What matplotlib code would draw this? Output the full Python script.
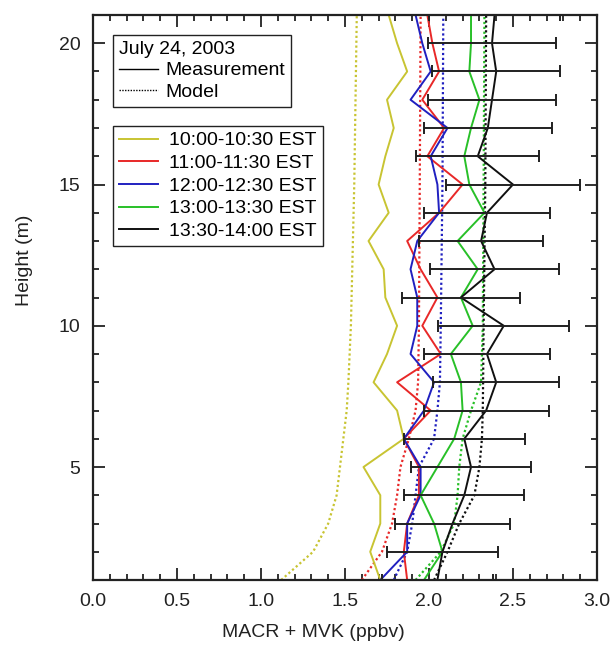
import matplotlib
matplotlib.use("Agg")
import matplotlib.pyplot as plt
import numpy as np
from matplotlib.lines import Line2D
from matplotlib.ticker import MultipleLocator, FormatStrFormatter

plt.rcParams['font.family'] = ['Liberation Sans', 'DejaVu Sans']

# measurement heights (m)
height = np.arange(1, 22)

# measured MACR + MVK (ppbv) per half-hour period
meas_1000 = [1.71, 1.65, 1.71, 1.71, 1.61, 1.85, 1.81, 1.67, 1.75, 1.81, 1.74,
             1.73, 1.64, 1.76, 1.70, 1.74, 1.79, 1.75, 1.87, 1.81, 1.76]
meas_1100 = [1.87, 1.85, 1.87, 1.94, 1.94, 1.85, 2.01, 1.81, 2.07, 1.96, 2.05,
             1.95, 1.87, 2.06, 2.20, 1.99, 2.09, 1.96, 2.06, 2.02, 1.99]
meas_1200 = [1.71, 1.87, 1.87, 1.95, 1.95, 1.85, 1.97, 2.03, 1.89, 1.93, 1.93,
             1.89, 1.93, 2.06, 2.05, 2.01, 2.11, 1.89, 2.01, 1.96, 1.92]
meas_1300 = [1.97, 2.08, 2.03, 1.95, 2.05, 2.15, 2.20, 2.19, 2.13, 2.26, 2.19,
             2.29, 2.17, 2.33, 2.24, 2.21, 2.25, 2.30, 2.24, 2.25, 2.25]
meas_1330 = [2.05, 2.08, 2.14, 2.21, 2.25, 2.21, 2.34, 2.40, 2.345, 2.445, 2.19,
             2.39, 2.31, 2.345, 2.50, 2.29, 2.35, 2.375, 2.40, 2.375, 2.39]
err_1330 = [0.33, 0.333, 0.34, 0.356, 0.36, 0.36, 0.372, 0.375, 0.373, 0.39, 0.35,
            0.385, 0.367, 0.375, 0.40, 0.365, 0.38, 0.38, 0.38, 0.38, 0.39]

# model profiles
model_height = [1, 2, 3, 4, 5, 6, 7, 8, 10, 15, 21]
model_1000 = [1.12, 1.31, 1.40, 1.45, 1.47, 1.49, 1.51, 1.52, 1.535, 1.555, 1.57]
model_1100 = [1.60, 1.72, 1.78, 1.81, 1.83, 1.88, 1.92, 1.935, 1.94, 1.945, 1.95]
model_1200 = [1.79, 1.87, 1.90, 1.92, 1.94, 2.03, 2.05, 2.065, 2.07, 2.08, 2.085]
model_1300 = [1.92, 2.07, 2.15, 2.17, 2.18, 2.20, 2.25, 2.31, 2.32, 2.325, 2.33]
model_1330 = [2.03, 2.11, 2.18, 2.27, 2.30, 2.315, 2.32, 2.322, 2.325, 2.335, 2.34]

labels = ['10:00-10:30 EST', '11:00-11:30 EST', '12:00-12:30 EST',
          '13:00-13:30 EST', '13:30-14:00 EST']
colors = ['#c8c432', '#e82828', '#2020c0', '#28c028', '#101010']
meas = [meas_1000, meas_1100, meas_1200, meas_1300, meas_1330]
model = [model_1000, model_1100, model_1200, model_1300, model_1330]

fig = plt.figure(figsize=(6.1, 6.52), dpi=100)
ax = fig.add_axes([0.1525, 0.1104, 0.8262, 0.8666])

handles = []
for m, c in zip(model, colors):
    ax.plot(m, model_height, color=c, lw=1.6, ls=(0, (1, 1.2)))
for m, c in zip(meas, colors):
    ln, = ax.plot(m, height, color=c, lw=1.4)
    handles.append(ln)

ax.errorbar(meas_1330, height, xerr=err_1330, fmt='none', ecolor='#202020',
            elinewidth=1.4, capsize=4, capthick=1.4)

ax.set_xlim(0, 3)
ax.set_ylim(1, 21)
ax.xaxis.set_major_locator(MultipleLocator(0.5))
ax.xaxis.set_minor_locator(MultipleLocator(0.1))
ax.xaxis.set_major_formatter(FormatStrFormatter('%.1f'))
ax.yaxis.set_major_locator(MultipleLocator(5))
ax.yaxis.set_minor_locator(MultipleLocator(1))
ax.tick_params(which='both', direction='in', top=True, right=True,
               labelsize=14, colors='#222222', width=1.3)
ax.tick_params(which='major', length=8.5, pad=9)
ax.tick_params(which='minor', length=4.5)
for s in ax.spines.values():
    s.set_linewidth(1.6)
    s.set_color('#222222')

ax.set_xlabel('MACR + MVK (ppbv)', fontsize=14, color='#222222')
ax.set_ylabel('Height (m)', fontsize=14, color='#222222')
ax.xaxis.set_label_coords(0.4365, -0.078)
ax.yaxis.set_label_coords(-0.12, 0.566)

h_meas = Line2D([], [], color='black', lw=1)
h_model = Line2D([], [], color='black', lw=1, ls=(0, (1, 1)))
leg1 = ax.legend([h_meas, h_model], ['Measurement', 'Model'], title='July 24, 2003',
                 loc='upper left', bbox_to_anchor=(0.0397, 0.9646), borderaxespad=0,
                 fancybox=False, edgecolor='#222222', framealpha=1, fontsize=14,
                 title_fontsize=14, handlelength=2.0, handletextpad=0.4,
                 labelspacing=0.2, borderpad=0.3, alignment='left')
leg1.get_frame().set_linewidth(1.0)
ax.add_artist(leg1)

leg2 = ax.legend(handles, labels, loc='upper left', bbox_to_anchor=(0.0397, 0.8035),
                 borderaxespad=0, fancybox=False, edgecolor='#222222', framealpha=1,
                 fontsize=14, handlelength=2.0, handletextpad=0.6,
                 labelspacing=0.26, borderpad=0.3)
leg2.get_frame().set_linewidth(1.0)

fig.savefig('out.png', dpi=100)
